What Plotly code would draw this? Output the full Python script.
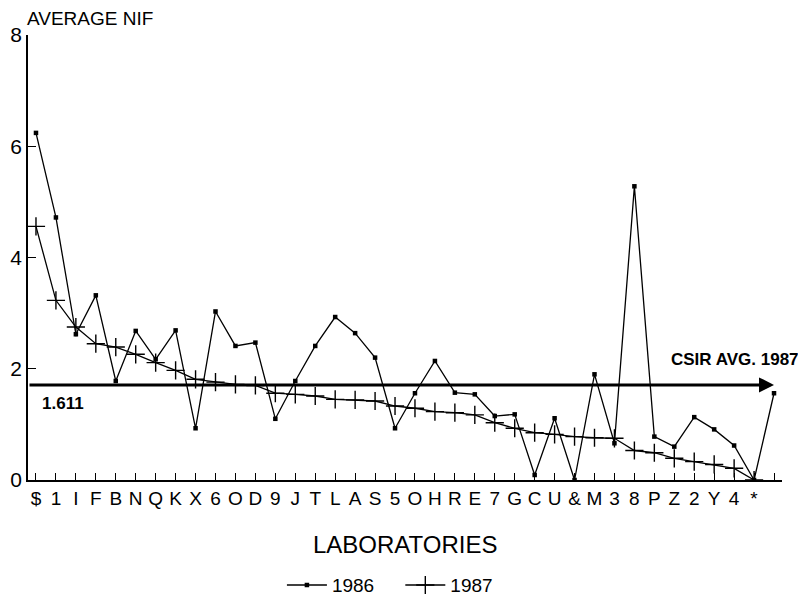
import plotly.graph_objects as go

labs = ["$", "1", "I", "F", "B", "N", "Q", "K", "X", "6", "O", "D", "9",
        "J", "T", "L", "A", "S", "5", "O", "H", "R", "E", "7",
        "G", "C", "U", "&", "M", "3", "8", "P", "Z", "2", "Y", "4", "*", ""]

nif_1986 = [6.24, 4.72, 2.62, 3.32, 1.78, 2.68, 2.17, 2.69, 0.93, 3.03, 2.41, 2.47, 1.10,
            1.78, 2.41, 2.93, 2.64, 2.20, 0.93, 1.56, 2.14, 1.57, 1.54, 1.15,
            1.18, 0.09, 1.11, 0.0, 1.90, 0.66, 5.28, 0.78, 0.60, 1.13, 0.91, 0.62, 0.0, 1.56]

nif_1987 = [4.56, 3.23, 2.75, 2.45, 2.39, 2.26, 2.11, 1.97, 1.81, 1.76, 1.72, 1.70, 1.56,
            1.54, 1.51, 1.45, 1.44, 1.42, 1.33, 1.29, 1.23, 1.21, 1.17, 1.03,
            0.93, 0.85, 0.82, 0.78, 0.76, 0.75, 0.53, 0.49, 0.39, 0.33, 0.28, 0.21, 0.0, None]

csir_avg = 1.71
csir_label = "1.611"

idx = list(range(len(labs)))
FONT = "Liberation Sans, Arial, sans-serif"

fig = go.Figure()
fig.add_trace(go.Scatter(
    x=idx, y=nif_1986, name="1986&nbsp;&nbsp;&nbsp;&nbsp;", mode="lines+markers",
    line=dict(color="black", width=1.3),
    marker=dict(symbol="square", size=4.5, color="black"),
))
fig.add_trace(go.Scatter(
    x=idx, y=nif_1987, name="1987", mode="lines+markers",
    line=dict(color="black", width=1.3),
    marker=dict(symbol="cross-thin", size=13, color="black",
                line=dict(color="black", width=1.4)),
))

# CSIR average arrow
fig.add_annotation(x=37.0, y=csir_avg, ax=-0.4, ay=csir_avg,
                   xref="x", yref="y", axref="x", ayref="y",
                   text="", showarrow=True, arrowhead=2, arrowsize=1,
                   arrowwidth=3, arrowcolor="black")
fig.add_annotation(x=0.2, y=csir_avg - 0.34, xref="x", yref="y",
                   text="<b>" + csir_label + "</b>", showarrow=False,
                   xanchor="left", yanchor="middle",
                   font=dict(size=17, color="black", family=FONT))
fig.add_annotation(x=1.0, y=csir_avg + 0.45, xref="paper", yref="y",
                   text="<b>CSIR AVG. 1987</b>", showarrow=False,
                   xanchor="right", yanchor="middle", xshift=19,
                   font=dict(size=17, color="black", family=FONT))

# axis titles
fig.add_annotation(x=0, y=1.0, xref="paper", yref="paper", yshift=17, xshift=-3,
                   text="AVERAGE NIF", showarrow=False,
                   xanchor="left", yanchor="middle",
                   font=dict(size=19, color="black", family=FONT))
fig.add_annotation(x=0.5, y=0, xref="paper", yref="paper", yshift=-64,
                   text="LABORATORIES", showarrow=False,
                   xanchor="center", yanchor="middle",
                   font=dict(size=24, color="black", family=FONT))

fig.update_layout(
    width=798, height=595,
    margin=dict(l=20, r=24, t=27, b=123),
    paper_bgcolor="white", plot_bgcolor="white",
    font=dict(family=FONT, color="black"),
    showlegend=True,
    legend=dict(orientation="h", x=0.48, xanchor="center",
                yref="container", y=0.03, yanchor="middle",
                font=dict(size=19, color="black", family=FONT),
                itemwidth=40, tracegroupgap=0),
    xaxis=dict(range=[-0.4, 37.4], tickvals=idx, ticktext=labs,
               ticks="inside", ticklen=7, tickwidth=1.2, tickcolor="black",
               showline=True, linecolor="black", linewidth=1.5,
               showgrid=False, zeroline=False, automargin=False,
               tickfont=dict(size=19, color="black", family=FONT)),
    yaxis=dict(range=[0, 8], tickvals=[0, 2, 4, 6, 8],
               ticks="inside", ticklen=8, tickwidth=1.2, tickcolor="black",
               showline=True, linecolor="black", linewidth=1.5,
               showgrid=False, zeroline=False, automargin=False,
               tickfont=dict(size=21, color="black", family=FONT)),
)

fig.write_html("out.html")
